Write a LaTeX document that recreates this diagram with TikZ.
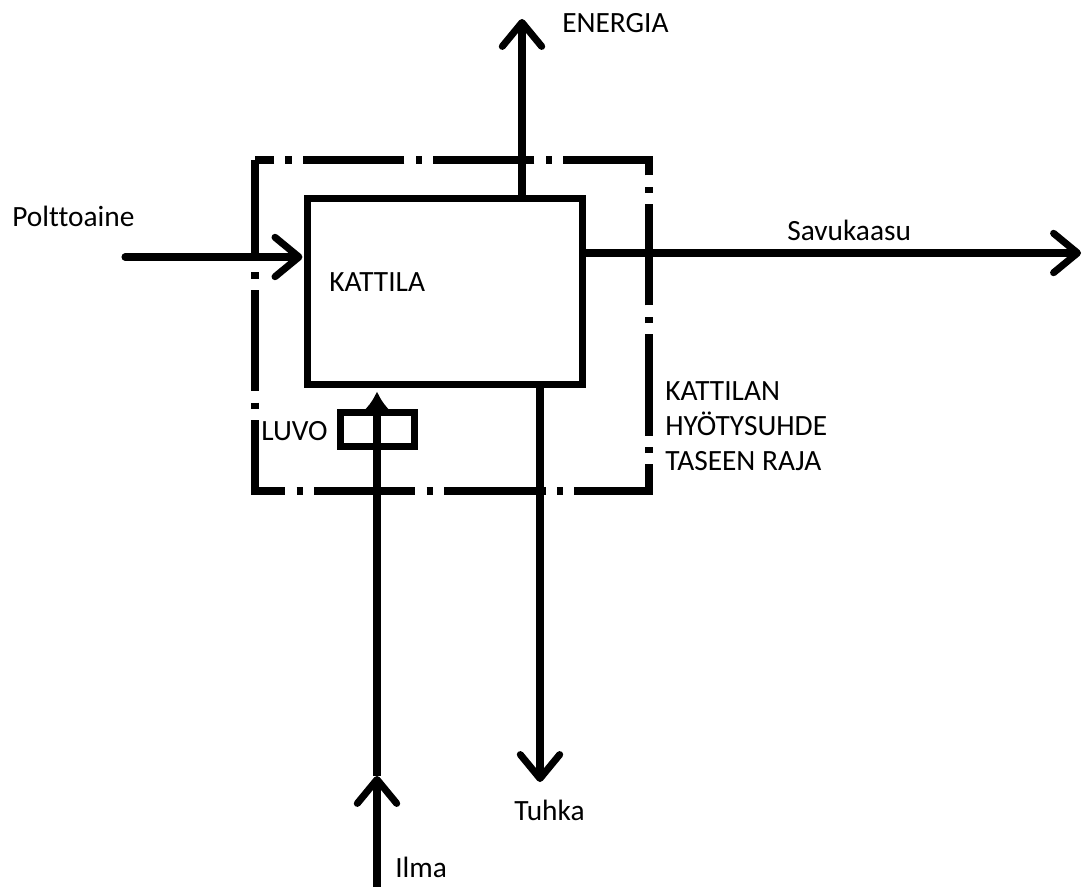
\documentclass[tikz,border=0pt]{standalone}
\usepackage{fontspec}
\setmainfont[Ligatures=NoCommon]{Carlito}
\usetikzlibrary{positioning,arrows.meta,calc}

\tikzset{
  virtaus/.style={line width=5pt,-{Straight Barb[length=17pt,width=28pt,line width=5pt,round]}},
  raja/.style={line width=5pt,dash pattern=on 72pt off 8pt on 4.5pt off 8pt},
  laatikko/.style={draw,line width=5pt,rectangle,inner sep=0pt},
  teksti/.style={inner sep=0pt,font=\fontsize{20.9}{25}\selectfont}
}

\begin{document}
\begin{tikzpicture}[x=0.025cm,y=-0.025cm]
  \useasboundingbox (0,0) rectangle (1086,887);
  % taseen raja
  \draw[raja] (255,160) rectangle (649,491);
  % kattila ja luvo
  \node[laatikko,minimum width=6.85cm,minimum height=4.625cm] (kattila) at (445,291.5) {};
  \node[laatikko,minimum width=1.85cm,minimum height=0.85cm] (luvo) at (377.5,429.5) {};
  \node[teksti,anchor=base west] (kattilaTxt) at (329,291) {KATTILA};
  \node[teksti,anchor=base west] (luvoTxt) at (261,440) {LUVO};
  % virrat
  \coordinate (polttoIn) at (125,257);
  \coordinate (savuOut) at (1081,253);
  \coordinate (energiaOut) at (522,19);
  \coordinate (tuhkaOut) at (540,782);
  \coordinate (ilmaIn) at (377,887);
  \coordinate (ilmaKarki) at (377,776);
  \draw[virtaus,line cap=round] (polttoIn) -- ($(polttoIn -| kattila.west)+(-2,0)$);
  \draw[virtaus] (savuOut -| kattila.east) -- (savuOut);
  \draw[virtaus] (energiaOut |- kattila.north) -- (energiaOut);
  \draw[virtaus] (tuhkaOut |- kattila.south) -- (tuhkaOut);
  \draw[virtaus] (ilmaIn) -- (ilmaKarki);
  \draw[line width=5pt,-{Latex[length=14pt,width=20pt]}] (ilmaKarki) -- ($(ilmaKarki |- kattila.south)+(0,4)$);
  % tekstit
  \node[teksti,anchor=base west] (polttoTxt) at (12,226) {Polttoaine};
  \node[teksti,anchor=base west] (energiaTxt) at (562,33) {ENERGIA};
  \node[teksti,anchor=base west] (savuTxt) at (787,240) {Savukaasu};
  \node[teksti,anchor=base west] (tuhkaTxt) at (514,820) {Tuhka};
  \node[teksti,anchor=base west] (ilmaTxt) at (395,877) {Ilma};
  \node[teksti,anchor=base west] (rajaTxt1) at (665,400) {KATTILAN};
  \node[teksti,anchor=base west] (rajaTxt2) at (665,435) {HYÖTYSUHDE};
  \node[teksti,anchor=base west] (rajaTxt3) at (665,470) {TASEEN RAJA};
\end{tikzpicture}
\end{document}
